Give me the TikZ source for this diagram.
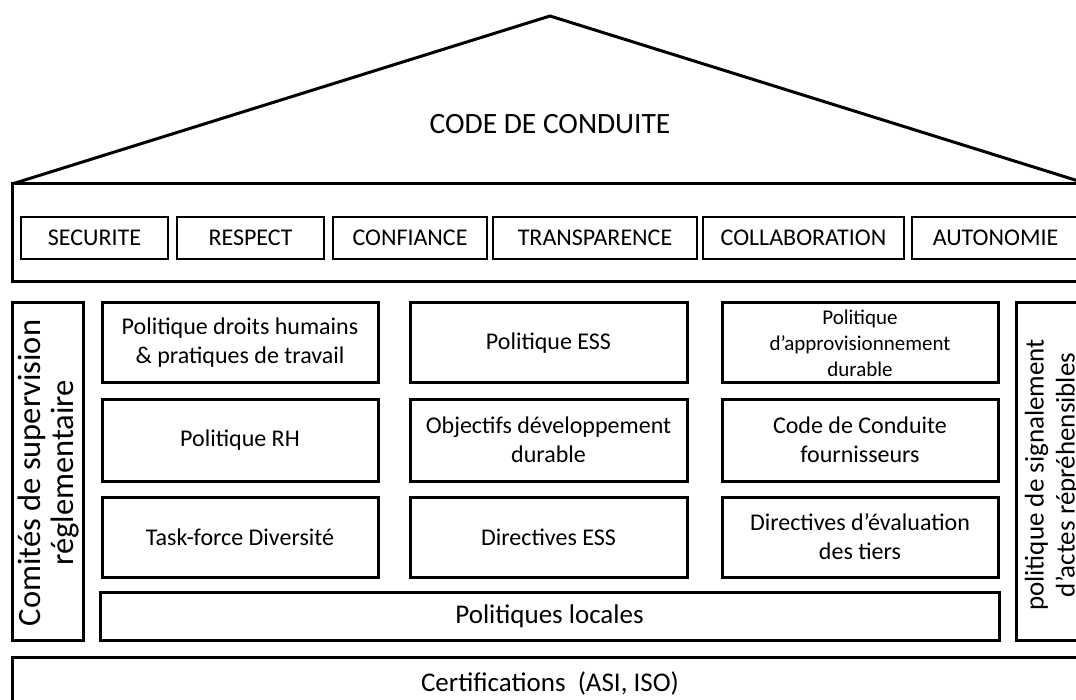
\documentclass[tikz,border=0pt]{standalone}
\usepackage{fontspec}
\setmainfont{Carlito}
\begin{document}
\begin{tikzpicture}[x=1pt,y=-1pt,
  frame/.style={draw, line width=3pt},
  pbox/.style={draw, line width=3pt, minimum width=276pt, minimum height=80pt, align=center, inner sep=2pt, font=\fontsize{24}{29}\selectfont},
  vbox/.style={draw, line width=1.4pt, minimum height=42pt, inner sep=0pt, font=\fontsize{24}{29}\selectfont},
  txt/.style={inner sep=0pt, align=center}
]
\useasboundingbox (0,0) rectangle (1076,700);
\clip (0,0) rectangle (1076,700);
% roof
\draw[frame, line join=miter] (12,184) -- (550,16) -- (1088,184);
\node[txt, anchor=base, font=\fontsize{29.5}{35}\selectfont] (title) at (550,134) {CODE DE CONDUITE};
% values band
\node[frame, minimum width=1076pt, minimum height=98pt, inner sep=0pt] (band) at (550,233) {};
\node[vbox, minimum width=147pt] (v1) at (94.5,238) {SECURITE};
\node[vbox, minimum width=147pt] (v2) at (250.5,238) {RESPECT};
\node[vbox, minimum width=154pt] (v3) at (410,238) {CONFIANCE};
\node[vbox, minimum width=204pt] (v4) at (595,238) {TRANSPARENCE};
\node[vbox, minimum width=201pt] (v5) at (803.5,238) {COLLABORATION};
\node[vbox, minimum width=167pt] (v6) at (995.5,238) {AUTONOMIE};
% side columns
\node[frame, minimum width=71pt, minimum height=337pt, inner sep=0pt] (lcol) at (47.5,471.5) {};
\node[txt, rotate=90, font=\fontsize{32.5}{33}\selectfont] (ltext) at (49,473) {Comités de supervision\\réglementaire};
\node[frame, minimum width=71pt, minimum height=337pt, inner sep=0pt] (rcol) at (1051.5,471.5) {};
\node[txt, rotate=90, font=\fontsize{27}{31}\selectfont] (rtext) at (1052,475) {politique de signalement\\d’actes répréhensibles};
% policy boxes
\node[pbox] (a1) at (240,343) {Politique droits humains\\\& pratiques de travail};
\node[pbox, minimum height=82pt] (a2) at (240,440) {Politique RH};
\node[pbox] (a3) at (240,537) {Task-force Diversité};
\node[pbox, minimum width=277pt] (b1) at (548.5,343) {Politique ESS};
\node[pbox, minimum width=277pt, minimum height=82pt] (b2) at (548.5,440) {Objectifs développement\\durable};
\node[pbox, minimum width=277pt] (b3) at (548.5,537) {Directives ESS};
\node[pbox, font=\fontsize{21}{26}\selectfont] (c1) at (860,343) {Politique\\d’approvisionnement\\durable};
\node[pbox, minimum height=82pt] (c2) at (860,440) {Code de Conduite\\fournisseurs};
\node[pbox] (c3) at (860,537) {Directives d’évaluation\\des tiers};
% local policies
\node[frame, minimum width=899pt, minimum height=48pt, inner sep=0pt, font=\fontsize{27}{32}\selectfont] (loc) at (549.5,616) {Politiques locales};
% certifications
\node[frame, minimum width=1076pt, minimum height=56pt, inner sep=0pt] (cert) at (550,685) {};
\node[txt, font=\fontsize{27}{32}\selectfont] (certtext) at (550,683) {Certifications \ (ASI, ISO)};
\end{tikzpicture}
\end{document}
